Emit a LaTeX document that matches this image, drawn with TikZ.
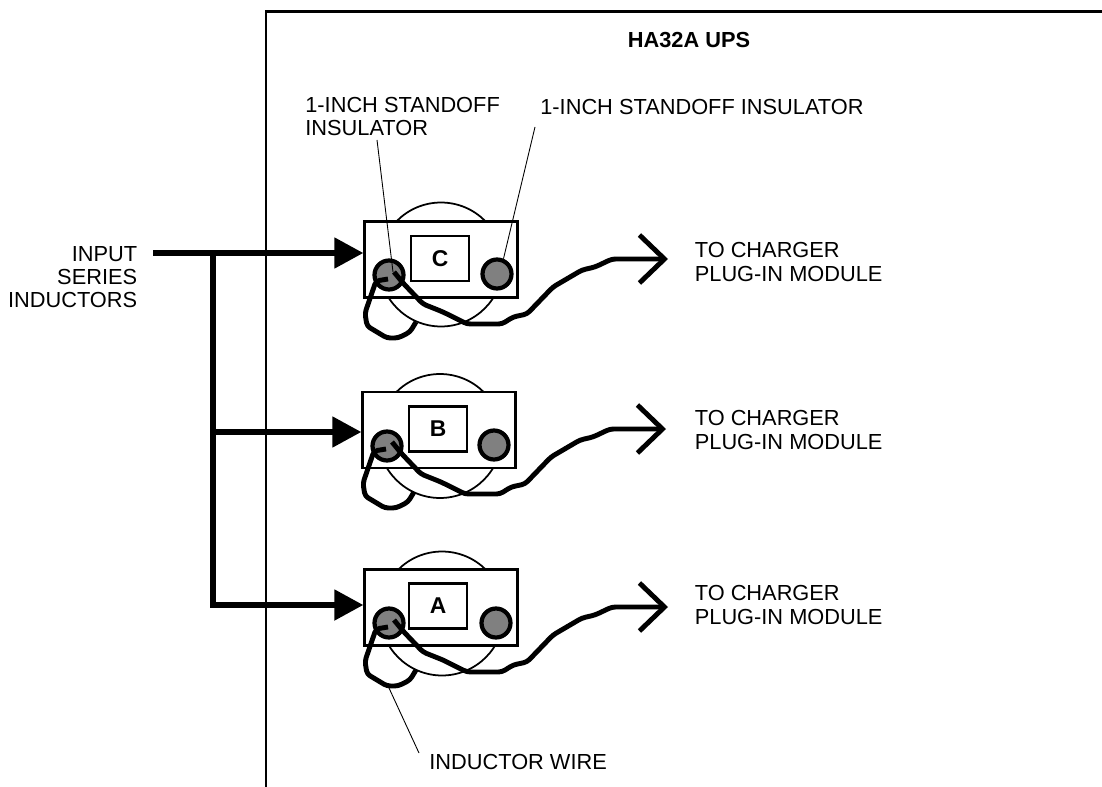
\documentclass[tikz,border=0pt]{standalone}
\usepackage{fontspec}
\setmainfont{Liberation Sans}
\usetikzlibrary{arrows.meta}

\begin{document}
\begin{tikzpicture}[x=0.02cm,y=-0.02cm]
        \tikzstyle{every node}+=[inner sep=0pt]
        \tikzstyle{caption}=[font=\fontsize{12.4}{13}\selectfont]
        \tikzstyle{chargerlabel}=[font=\fontsize{12.4}{13.6}\selectfont,align=left,anchor=west]
        \tikzstyle{panel}=[black,line width=1.3pt]
        \tikzstyle{drum}=[draw=black,circle,line width=1pt,minimum size=2.48cm]
        \tikzstyle{plate}=[draw=black,fill=white,line width=1.4pt,minimum width=3.06cm,minimum height=1.52cm]
        \tikzstyle{tag}=[draw=black,line width=1.4pt,minimum width=1.16cm,minimum height=0.9cm,font=\fontsize{13}{14}\selectfont\bfseries]
        \tikzstyle{insulator}=[draw=black,fill=black!50,circle,line width=2.4pt,minimum size=0.58cm]
        \tikzstyle{feed}=[black,line width=3pt,-{Triangle[length=0.58cm,width=0.6cm]}]
        \tikzstyle{bus}=[black,line width=3pt]
        \tikzstyle{wire}=[black,line width=2.8pt,line join=round,rounded corners=2pt]
        \tikzstyle{outwire}=[wire,-{Straight Barb[length=0.5cm,width=0.96cm]}]
        \tikzstyle{leader}=[black,line width=0.5pt]
        \useasboundingbox (0,0) rectangle (1102,787);
        \coordinate (panelbottom) at (266,787);
        \coordinate (panelcorner) at (266,11.5);
        \coordinate (panelright) at (1102,11.5);
        \draw [panel] (panelbottom) -- (panelcorner) -- (panelright);
        \node [font=\fontsize{12.4}{13}\selectfont\bfseries] (title) at (689,40) {HA32A UPS};

        \node [drum] (drumC) at (441,264.5) {};
        \node [plate] (plateC) at (441,259.5) {};
        \node [tag] (tagC) at (440,258.5) {C};
        \node [insulator] (insCL) at (389,275) {};
        \node [insulator] (insCR) at (497,274) {};
        \node [drum] (drumB) at (440,436) {};
        \node [plate] (plateB) at (439,430) {};
        \node [tag] (tagB) at (438,429) {B};
        \node [insulator] (insBL) at (387,446) {};
        \node [insulator] (insBR) at (494,445) {};
        \node [drum] (drumA) at (442,613.5) {};
        \node [plate] (plateA) at (441,607.5) {};
        \node [tag] (tagA) at (438,606) {A};
        \node [insulator] (insAL) at (389,623) {};
        \node [insulator] (insAR) at (496,623) {};

        \coordinate (instart) at (153,253);
        \coordinate (feedC) at (213,253);
        \coordinate (feedB) at (213,432);
        \coordinate (feedA) at (213,605);
        \draw [feed] (instart) -- (instart -| plateC.west);
        \draw [feed] (feedB) -- (feedB -| plateB.west);
        \draw [bus] (feedC) -- (feedA);
        \draw [feed] (210.4,605) -- (feedA -| plateA.west);

        \coordinate (tailC) at (388,279);
        \coordinate (runC) at (394,272);
        \coordinate (tailB) at (386,449);
        \coordinate (runB) at (392,442);
        \coordinate (tailA) at (388,627);
        \coordinate (runA) at (394,620);
        \draw [wire] (tailC) -- ++(-12,2) -- ++(-11,32) -- ++(2,13) -- ++(20,12) -- ++(11,0) -- ++(12,-6) -- ++(6,-10);
        \draw [outwire] (runC) -- ++(9,11) -- ++(20,21) -- ++(20,8) -- ++(24,12) -- ++(35,0) -- ++(11,-7) -- ++(14,-3) -- ++(26,-27) -- ++(29,-17) -- ++(13,-3) -- ++(17,-8) -- ++(56,0);
        \draw [wire] (tailB) -- ++(-12,2) -- ++(-11,32) -- ++(2,13) -- ++(20,12) -- ++(11,0) -- ++(12,-6) -- ++(6,-10);
        \draw [outwire] (runB) -- ++(9,11) -- ++(20,21) -- ++(20,8) -- ++(24,12) -- ++(35,0) -- ++(11,-7) -- ++(14,-3) -- ++(26,-27) -- ++(29,-17) -- ++(13,-3) -- ++(17,-8) -- ++(56,0);
        \draw [wire] (tailA) -- ++(-12,2) -- ++(-11,32) -- ++(2,13) -- ++(20,12) -- ++(11,0) -- ++(12,-6) -- ++(6,-10);
        \draw [outwire] (runA) -- ++(9,11) -- ++(20,21) -- ++(20,8) -- ++(24,12) -- ++(35,0) -- ++(11,-7) -- ++(14,-3) -- ++(26,-27) -- ++(29,-17) -- ++(13,-3) -- ++(17,-8) -- ++(56,0);

        \node [caption,align=right,anchor=east] (inputlabel) at (137.5,277) {INPUT\\SERIES\\INDUCTORS};
        \node [caption,align=left,anchor=west] (leftlabel) at (305,116.5) {1-INCH STANDOFF\\INSULATOR};
        \node [caption,anchor=west] (rightlabel) at (540,107) {1-INCH STANDOFF INSULATOR};
        \node [chargerlabel] (chargerC) at (694.5,261.6) {TO CHARGER\\PLUG-IN MODULE};
        \node [chargerlabel] (chargerB) at (694.5,430) {TO CHARGER\\PLUG-IN MODULE};
        \node [chargerlabel] (chargerA) at (694.5,605) {TO CHARGER\\PLUG-IN MODULE};
        \node [caption,anchor=west] (wirelabel) at (429,762) {INDUCTOR WIRE};

        \coordinate (leftfoot) at (377,140);
        \coordinate (rightfoot) at (535,127);
        \coordinate (wirefoot) at (419,753);
        \coordinate (wiretouch) at (389,688);
        \draw [leader] (leftfoot) -- (393,272);
        \draw [leader] (rightfoot) -- (insCR.67);
        \draw [leader] (wirefoot) -- (wiretouch);
\end{tikzpicture}
\end{document}
